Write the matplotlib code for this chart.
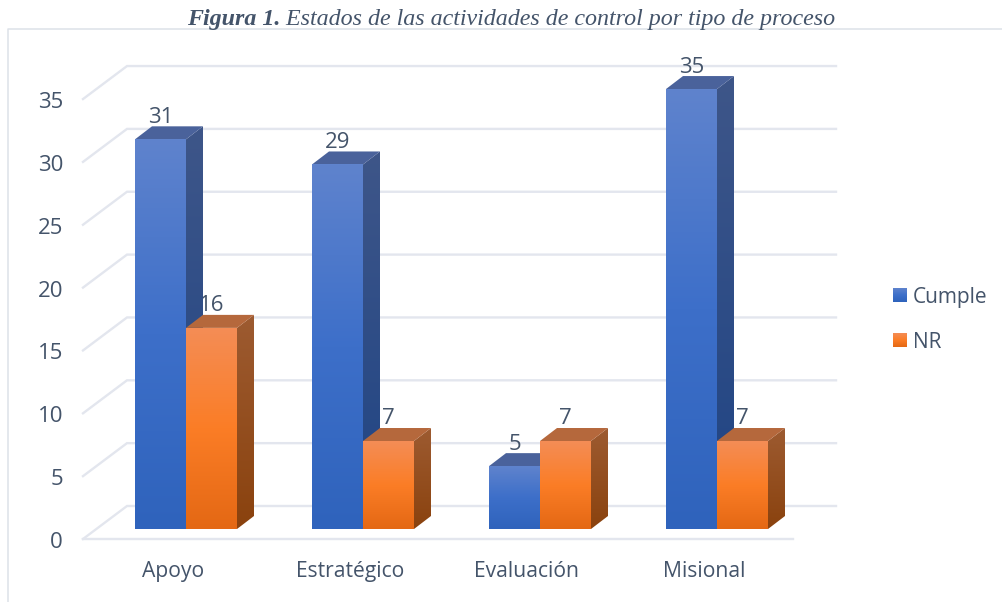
import matplotlib
matplotlib.use("Agg")
import matplotlib.pyplot as plt
import numpy as np
from matplotlib.colors import LinearSegmentedColormap
from matplotlib.patches import Polygon

# data
categories = ["Apoyo", "Estratégico", "Evaluación", "Misional"]
cumple = [31, 29, 5, 35]
nr = [16, 7, 7, 7]
y_ticks = [0, 5, 10, 15, 20, 25, 30, 35]
series_names = ["Cumple", "NR"]

TEXT = "#44546A"
GRID = "#E3E6EE"
BLUE_FRONT = ["#5F83CD", "#3D6FC9", "#2F63BC"]
BLUE_SIDE = ["#3E5689", "#1F4484"]
BLUE_TOP = "#4A629B"
ORANGE_FRONT = ["#F48D56", "#FB7D26", "#E46814"]
ORANGE_SIDE = ["#9D5B31", "#8A420E"]
ORANGE_TOP = "#B5683C"

W, H = 1002, 602
fig = plt.figure(figsize=(W / 100, H / 100), dpi=100)
ax = fig.add_axes([0, 0, 1, 1])
ax.set_axis_off()

# category 0 sits at px 186, each category is 177 px; value 0 at py 529, 12.57 px per unit
PX_X, PX_Y = 177.0, 12.57


def dx(px):
    return (px - 186) / PX_X


def dy(py):
    return (529 - py) / PX_Y


BAR_W = 51 / PX_X
DEPTH_X, DEPTH_Y = 17 / PX_X, 13 / PX_Y


def gradient_face(verts, stops, z):
    verts = np.array(verts)
    cmap = LinearSegmentedColormap.from_list("g", stops)
    grad = np.linspace(0, 1, 256).reshape(-1, 1)
    ext = (verts[:, 0].min(), verts[:, 0].max(), verts[:, 1].min(), verts[:, 1].max())
    im = ax.imshow(grad, cmap=cmap, extent=ext, aspect="auto", zorder=z,
                   origin="upper", vmin=0, vmax=1)
    poly = Polygon(verts, transform=ax.transData, facecolor="none", edgecolor="none")
    ax.add_patch(poly)
    im.set_clip_path(poly)


def bar3d(x, v, front, side, top, z):
    x1 = x + BAR_W
    gradient_face([(x1, 0), (x1, v), (x1 + DEPTH_X, v + DEPTH_Y), (x1 + DEPTH_X, DEPTH_Y)], side, z)
    ax.fill([x, x1, x1 + DEPTH_X, x + DEPTH_X], [v, v, v + DEPTH_Y, v + DEPTH_Y],
            color=top, lw=0, zorder=z)
    gradient_face([(x, 0), (x1, 0), (x1, v), (x, v)], front, z + 0.1)


# outer chart frame
ax.plot([dx(8), dx(8), dx(1002)], [dy(602), dy(29), dy(29)], color="#DDE1E8", lw=1.1, zorder=1)

# grid: side wall and back wall
for t in y_ticks:
    y_front = dy(539) + t
    y_back = dy(506) + t
    ax.plot([dx(83), dx(127), dx(836)], [y_front, y_back, y_back],
            color=GRID, lw=1.7, zorder=1, solid_joinstyle="miter")
    ax.text(dx(63), y_front - 1 / PX_Y, str(t), ha="right", va="center_baseline",
            fontsize=16, color=TEXT, family="Open Sans")
ax.plot([dx(83), dx(793)], [dy(539), dy(539)], color=GRID, lw=1.7, zorder=1)

for i, name in enumerate(categories):
    bar3d(i - BAR_W, cumple[i], BLUE_FRONT, BLUE_SIDE, BLUE_TOP, 3)
    bar3d(i, nr[i], ORANGE_FRONT, ORANGE_SIDE, ORANGE_TOP, 4)
    ax.annotate(str(cumple[i]), (i - BAR_W / 2, cumple[i]), xytext=(0, 17.5), textcoords="offset points",
                ha="center", va="center_baseline", fontsize=16, color=TEXT, family="Open Sans", zorder=5)
    ax.annotate(str(nr[i]), (i + BAR_W / 2, nr[i]), xytext=(0, 18), textcoords="offset points",
                ha="center", va="center_baseline", fontsize=16, color=TEXT, family="Open Sans", zorder=2)
    ax.text(i - 13 / PX_X, dy(569), name, ha="center", va="center_baseline",
            fontsize=15.2, color=TEXT, family="Open Sans")

# legend
gradient_face([(dx(893), dy(288)), (dx(907), dy(288)), (dx(907), dy(302)), (dx(893), dy(302))], BLUE_FRONT, 3)
gradient_face([(dx(893), dy(333)), (dx(907), dy(333)), (dx(907), dy(347)), (dx(893), dy(347))], ORANGE_FRONT, 3)
ax.text(dx(913), dy(295), series_names[0], va="center_baseline", fontsize=15, color=TEXT, family="Open Sans")
ax.text(dx(913), dy(340), series_names[1], va="center_baseline", fontsize=15, color=TEXT, family="Open Sans")

# title, bold part then the rest
t1 = ax.text(dx(187), dy(25), "Figura 1.", fontsize=17.3, style="italic", weight="bold",
             color=TEXT, family="Liberation Serif")
ax.annotate(" Estados de las actividades de control por tipo de proceso", xy=(1, 0), xycoords=t1,
            va="bottom", fontsize=17.3, style="italic", color=TEXT, family="Liberation Serif")

ax.set_xlim(dx(0), dx(W))
ax.set_ylim(dy(H), dy(0))

plt.savefig("out.png", dpi=100)
